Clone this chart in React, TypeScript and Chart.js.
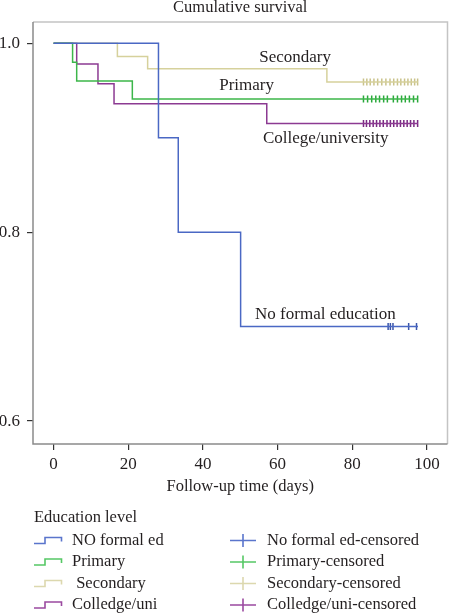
import React, { useEffect, useRef } from "react";
import { Chart, registerables } from "chart.js";

Chart.register(...registerables);

const FONT = "'Liberation Serif', 'DejaVu Serif', serif";
const TEXT = "#231f20";

const chartTitle = "Cumulative survival";
const xAxisTitle = "Follow-up time (days)";
const legendTitle = "Education level";

const xTicks = [0, 20, 40, 60, 80, 100];
const yTicks = [0.6, 0.8, 1.0];
const yTickLabels = ["0.6", "0.8", "1.0"];

const groupNames = ["NO formal ed", "Primary", " Secondary", "Colledge/uni"];
const censoredNames = [
  "No formal ed-censored",
  "Primary-censored",
  "Secondary-censored",
  "Colledge/uni-censored",
];
const curveLabels = ["No formal education", "Primary", "Secondary", "College/university"];
const curveLabelX = [72.8, 51.7, 64.7, 72.9];
const curveLabelY = [0.7132, 0.9556, 0.985, 0.8995];

const noFormalTimes = [0, 28.1, 33.4, 50.1, 97.6];
const noFormalSurv = [1, 0.9, 0.8, 0.7, 0.7];
const primaryTimes = [0, 5.1, 6.2, 21.1, 97.6];
const primarySurv = [1, 0.98, 0.96, 0.941, 0.941];
const secondaryTimes = [0, 17.1, 25.2, 73.2, 97.6];
const secondarySurv = [1, 0.986, 0.973, 0.959, 0.959];
const collegeTimes = [0, 6.2, 11.9, 16.2, 57.1, 97.6];
const collegeSurv = [1, 0.978, 0.957, 0.936, 0.915, 0.915];

const noFormalCensored = [89.6, 90.2, 90.9, 95.1, 97.2];
const primaryCensored = [83, 84.1, 85.2, 86.3, 87.3, 88.4, 89.4, 91.0, 92.1, 93.2, 94.2, 95.3, 96.4, 97.5];
const secondaryCensored = [83, 83.9, 84.8, 85.8, 86.8, 87.9, 89.0, 90.1, 91.1, 92.1, 93.0, 94.0, 94.9, 95.8, 96.7, 97.5];
const collegeCensored = [83, 83.8, 84.7, 85.6, 86.5, 87.4, 88.3, 89.3, 90.2, 91.1, 92.0, 92.9, 93.8, 94.7, 95.6, 96.5, 97.5];

const lineColors = ["#4a68c4", "#3cb64a", "#d6d19c", "#8c3a92"];
const censorColors = ["#3a55aa", "#28a83a", "#c9c28a", "#7a2a82"];
const legendColors = ["#5a75cc", "#56c865", "#dcd8ae", "#9b4aa0"];

const times = [noFormalTimes, primaryTimes, secondaryTimes, collegeTimes];
const survs = [noFormalSurv, primarySurv, secondarySurv, collegeSurv];
const censored = [noFormalCensored, primaryCensored, secondaryCensored, collegeCensored];

const overlay = {
  id: "overlay",
  afterDraw(chart: any) {
    const { ctx, chartArea: a, scales } = chart;
    const xs = scales.x;
    const ys = scales.y;
    ctx.save();
    // frame
    ctx.lineWidth = 1.5;
    ctx.strokeStyle = "#c4c4c4";
    ctx.beginPath();
    ctx.moveTo(a.left, a.top);
    ctx.lineTo(a.right, a.top);
    ctx.lineTo(a.right, a.bottom);
    ctx.stroke();
    ctx.strokeStyle = "#8a8a8a";
    ctx.beginPath();
    ctx.moveTo(a.left, a.top);
    ctx.lineTo(a.left, a.bottom);
    ctx.lineTo(a.right, a.bottom);
    ctx.stroke();

    ctx.fillStyle = TEXT;
    ctx.textBaseline = "middle";
    ctx.font = `16.5px ${FONT}`;
    ctx.textAlign = "center";
    ctx.fillText(chartTitle, (a.left + a.right) / 2, 8);
    ctx.font = `16.5px ${FONT}`;
    ctx.fillText(xAxisTitle, (a.left + a.right) / 2, 487);

    // curve labels
    ctx.font = `17px ${FONT}`;
    for (let i = 0; i < curveLabels.length; i++) {
      ctx.fillText(curveLabels[i], xs.getPixelForValue(curveLabelX[i]), ys.getPixelForValue(curveLabelY[i]));
    }

    // legend
    ctx.font = `16.5px ${FONT}`;
    ctx.textAlign = "left";
    ctx.fillText(legendTitle, 34, 518);
    const rows = [540.5, 562, 583.5, 605];
    for (let i = 0; i < 4; i++) {
      const c = rows[i];
      ctx.strokeStyle = legendColors[i];
      ctx.lineWidth = 1.6;
      ctx.beginPath();
      ctx.moveTo(34, c + 3);
      ctx.lineTo(45, c + 3);
      ctx.lineTo(45, c - 3);
      ctx.lineTo(61.5, c - 3);
      ctx.lineTo(61.5, c + 1);
      ctx.stroke();
      ctx.fillStyle = TEXT;
      ctx.fillText(groupNames[i], 72, c);

      ctx.beginPath();
      ctx.moveTo(230, c);
      ctx.lineTo(256, c);
      ctx.moveTo(243, c - 6.5);
      ctx.lineTo(243, c + 6.5);
      ctx.stroke();
      ctx.fillText(censoredNames[i], 267, c);
    }
    ctx.restore();
  },
};

export default function App() {
  const ref = useRef<HTMLCanvasElement | null>(null);
  useEffect(() => {
    const canvas = ref.current;
    if (!canvas) return;
    const datasets: any[] = [];
    for (let i = 0; i < 4; i++) {
      datasets.push({
        label: groupNames[i],
        data: times[i].map((t, j) => ({ x: t, y: survs[i][j] })),
        showLine: true,
        stepped: "before",
        borderColor: lineColors[i],
        borderWidth: 1.5,
        pointRadius: 0,
        fill: false,
      });
    }
    for (let i = 0; i < 4; i++) {
      const last = survs[i][survs[i].length - 1];
      datasets.push({
        label: censoredNames[i],
        data: censored[i].map((t) => ({ x: t, y: last })),
        showLine: false,
        pointStyle: "line",
        rotation: 90,
        pointRadius: 3.5,
        borderColor: censorColors[i],
        backgroundColor: censorColors[i],
        pointBorderWidth: 1.5,
        borderWidth: 1.5,
      });
    }
    const chart = new Chart(canvas, {
      type: "scatter",
      data: { datasets },
      options: {
        animation: false,
        responsive: false,
        devicePixelRatio: 1,
        layout: { padding: { top: 22, right: 2, left: 0, bottom: 0 } },
        plugins: {
          legend: { display: false },
          title: { display: false },
          tooltip: { enabled: false },
        },
        scales: {
          x: {
            type: "linear",
            min: -5.5,
            max: 105.5,
            afterBuildTicks: (s: any) => {
              s.ticks = xTicks.map((v) => ({ value: v }));
            },
            afterFit: (s: any) => {
              s.height = 170;
            },
            grid: {
              display: true,
              drawOnChartArea: false,
              drawTicks: true,
              tickLength: 6,
              color: "#333",
              lineWidth: 1.2,
            },
            border: { display: false },
            ticks: {
              color: TEXT,
              padding: 4,
              font: { family: FONT, size: 17 },
              callback: (v: any) => String(v),
              maxRotation: 0,
            },
          },
          y: {
            type: "linear",
            min: 0.5757,
            max: 1.0225,
            afterBuildTicks: (s: any) => {
              s.ticks = yTicks.map((v) => ({ value: v }));
            },
            afterFit: (s: any) => {
              s.width = 33;
            },
            grid: {
              display: true,
              drawOnChartArea: false,
              drawTicks: true,
              tickLength: 6,
              color: "#333",
              lineWidth: 1.2,
            },
            border: { display: false },
            ticks: {
              color: TEXT,
              padding: 7,
              font: { family: FONT, size: 17 },
              callback: (v: any) => {
                const k = yTicks.findIndex((t) => Math.abs(t - v) < 1e-9);
                return k >= 0 ? yTickLabels[k] : "";
              },
            },
          },
        },
      },
      plugins: [overlay],
    });
    return () => chart.destroy();
  }, []);
  return (
    <div style={{ position: "absolute", left: 0, top: 0, width: 453, height: 614 }}>
      <canvas ref={ref} width={453} height={614} style={{ display: "block", width: 453, height: 614 }} />
    </div>
  );
}
